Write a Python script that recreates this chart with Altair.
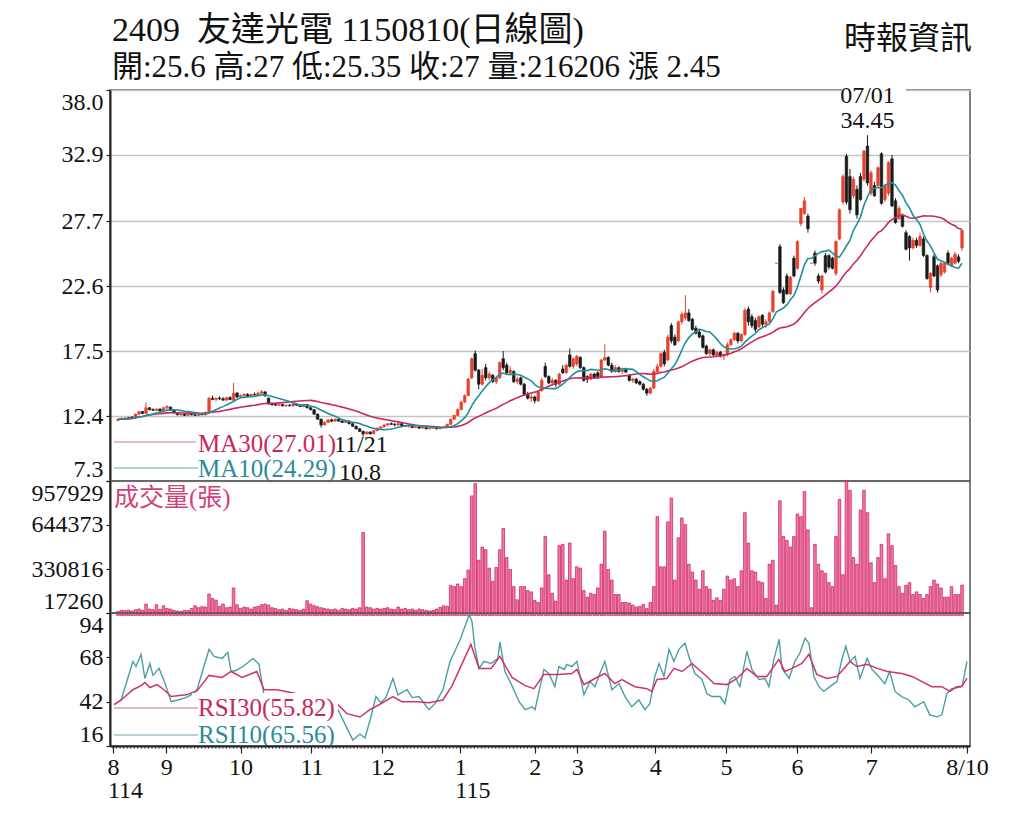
import json
import altair as alt
import pandas as pd

# ---------------- data (trading-day index 0 = 2025-08-11 ... 241 = 2026-08-10) -------------
OPEN = [
    12.05,12.15,12.2,12.15,12.3,12.25,12.55,12.75,12.6,13.05,12.9,12.85,12.95,12.8,13.05,
    13.1,12.85,12.65,12.5,12.55,12.45,12.55,12.5,12.45,12.55,12.5,12.75,13.8,13.7,13.8,13.75,13.65,13.85,13.65,14.2,13.9,
    14.0,14.1,13.95,14.1,14.05,14.2,14.3,13.8,13.35,13.3,13.25,13.3,13.2,13.25,13.2,13.35,13.25,13.15,13.3,13.05,
    12.9,12.55,12.15,11.7,11.9,12.1,12.0,12.15,12.0,11.9,12.0,11.8,11.6,11.4,11.2,11.0,11.15,11.0,11.25,11.45,
    11.55,11.7,11.8,11.75,11.7,11.8,11.65,11.6,11.6,11.5,11.55,11.45,11.5,11.4,11.45,11.5,11.4,11.5,11.55,11.75,12.15,12.45,
    12.9,13.5,14.0,15.4,17.3,16.0,14.9,16.2,15.4,15.6,15.1,15.4,16.9,16.4,15.8,15.9,15.1,15.4,14.9,14.1,13.8,
    13.9,13.6,14.4,16.3,15.5,15.0,15.2,14.9,16.1,15.8,17.2,16.3,
    16.5,17.0,16.2,15.5,15.3,15.7,15.8,15.5,16.8,17.0,16.4,15.9,16.2,15.9,16.1,15.6,15.2,15.3,15.1,14.9,14.5,14.2,
    14.6,15.9,16.3,17.4,16.8,19.5,18.6,18.3,19.8,20.1,20.5,20.0,19.3,19.0,18.7,17.9,17.3,17.6,17.2,17.4,
    17.1,17.2,18.0,18.4,18.9,18.3,18.8,20.8,20.2,19.9,19.4,20.3,19.6,19.8,20.6,24.4,25.7,22.3,23.4,22.0,
    24.8,24.0,27.5,28.3,28.1,24.4,25.2,23.4,22.3,25.0,25.0,24.8,23.6,26.3,29.2,32.8,31.2,29.7,30.2,31.2,31.0,
    33.6,29.9,30.5,30.5,33.0,29.4,29.9,32.6,29.3,27.9,28.1,26.8,26.5,25.6,26.2,25.8,26.3,25.0,22.5,24.9,24.2,23.5,
    23.7,25.2,24.2,24.4,24.9,25.6,
]
HIGH = [
    12.2,12.3,12.3,12.35,12.4,12.6,12.8,12.8,13.45,13.1,13.0,13.0,13.0,13.1,13.25,
    13.15,12.9,12.7,12.6,12.6,12.6,12.6,12.55,12.6,12.65,12.75,13.9,14.0,13.85,13.95,13.9,13.9,13.95,15.0,14.3,14.1,
    14.2,14.2,14.15,14.25,14.3,14.45,14.35,13.85,13.45,13.4,13.35,13.35,13.3,13.35,13.4,13.4,13.3,13.35,13.35,13.15,
    12.95,12.6,12.2,12.0,12.15,12.2,12.2,12.2,12.1,12.05,12.05,11.85,11.65,11.45,11.25,11.2,11.2,11.3,11.5,11.6,
    11.75,11.85,11.9,11.85,11.9,11.85,11.7,11.7,11.65,11.6,11.6,11.55,11.55,11.5,11.55,11.55,11.55,11.6,11.8,12.2,12.5,13.0,
    13.6,14.1,15.4,17.0,17.55,16.1,16.1,16.5,15.9,15.7,15.5,16.7,17.5,16.6,16.3,16.0,15.5,15.5,15.0,14.3,14.1,
    14.0,14.4,15.4,16.6,15.6,15.4,15.3,15.8,16.4,16.5,17.7,17.0,
    17.2,17.1,16.3,15.6,15.8,15.8,15.9,16.9,18.05,17.1,16.6,16.4,16.3,16.2,16.2,15.7,15.4,15.4,15.2,15.0,14.6,14.7,
    16.1,16.5,17.4,17.6,18.8,19.7,18.8,19.9,20.6,21.9,20.8,20.1,19.5,19.2,18.8,18.0,17.7,17.7,17.5,17.5,
    17.3,18.2,18.5,19.0,19.0,18.9,20.9,21.0,20.4,20.1,20.3,20.4,20.0,20.6,22.3,24.4,25.9,22.5,23.6,23.4,
    25.0,26.2,28.7,29.6,28.3,24.4,25.4,23.6,23.5,25.2,25.1,24.9,26.2,28.7,31.4,33.0,31.8,31.2,30.5,31.5,33.3,
    34.45,31.7,30.8,32.0,33.1,30.6,32.4,32.9,29.5,28.9,28.3,27.0,26.6,26.4,26.4,26.8,26.5,25.1,23.7,25.1,24.3,24.5,
    24.5,25.4,24.9,25.3,25.1,27.0,
]
LOW = [
    12.0,12.1,12.1,12.1,12.2,12.2,12.5,12.55,12.6,12.85,12.8,12.8,12.75,12.8,12.95,
    12.8,12.6,12.45,12.4,12.4,12.45,12.45,12.4,12.4,12.45,12.45,12.7,13.65,13.55,13.65,13.6,13.6,13.65,13.55,13.8,13.8,
    13.9,13.9,13.9,14.0,14.0,14.1,13.9,13.3,13.2,13.2,13.15,13.15,13.1,13.15,13.15,13.2,13.1,13.1,13.0,12.85,
    12.5,12.1,11.5,11.65,11.85,11.9,11.95,11.95,11.85,11.85,11.75,11.55,11.35,11.15,10.8,10.95,10.95,11.0,11.2,11.4,
    11.5,11.6,11.7,11.6,11.65,11.6,11.55,11.5,11.45,11.45,11.4,11.4,11.35,11.35,11.4,11.35,11.4,11.45,11.5,11.7,12.1,12.4,
    12.85,13.4,14.0,15.3,15.9,14.5,14.8,15.2,15.2,15.0,14.9,15.3,16.0,15.7,15.6,15.0,14.9,14.8,14.0,13.7,13.5,
    13.4,13.5,14.3,15.4,14.9,14.8,14.7,14.8,15.7,15.7,16.2,16.1,
    16.3,16.1,15.1,15.0,15.2,15.3,15.3,15.4,16.7,16.3,15.8,15.8,15.8,15.7,15.8,15.1,15.0,14.9,14.8,14.4,14.0,14.1,
    14.5,15.7,16.2,16.3,16.7,18.1,17.9,18.2,19.6,19.9,19.8,19.1,18.8,18.5,17.7,17.2,17.1,17.1,17.0,17.0,
    16.8,17.1,17.9,18.3,18.1,18.2,18.7,19.5,19.3,19.0,19.3,19.4,19.3,19.6,20.5,24.4,22.0,21.2,21.9,21.9,
    23.3,23.9,27.3,28.2,26.8,24.4,24.2,22.8,22.0,23.6,23.9,23.9,23.4,26.2,29.0,29.0,28.3,29.5,27.9,29.3,30.8,
    30.5,29.7,29.6,30.3,29.0,29.2,29.7,28.8,27.5,27.8,27.2,25.4,24.6,25.5,25.6,25.7,24.9,23.1,22.1,23.3,22.1,23.3,
    23.6,24.3,24.1,24.3,24.4,25.35,
]
CLOSE = [
    12.15,12.2,12.15,12.3,12.25,12.55,12.75,12.6,13.05,12.9,12.85,12.95,12.8,13.05,13.15,
    12.85,12.65,12.5,12.55,12.45,12.55,12.5,12.45,12.55,12.5,12.7,13.8,13.7,13.8,13.75,13.65,13.85,13.7,14.2,13.9,14.0,
    14.1,13.95,14.1,14.05,14.2,14.3,14.0,13.35,13.3,13.25,13.3,13.2,13.25,13.2,13.35,13.25,13.15,13.3,13.05,12.9,
    12.55,12.15,11.7,11.9,12.1,12.0,12.15,12.0,11.9,12.0,11.8,11.6,11.4,11.2,11.0,11.15,11.0,11.25,11.45,11.55,
    11.7,11.8,11.75,11.7,11.8,11.65,11.6,11.6,11.5,11.55,11.45,11.5,11.4,11.45,11.5,11.4,11.5,11.55,11.75,12.15,12.45,12.9,
    13.5,14.0,15.3,16.9,16.0,14.9,15.6,15.4,15.7,15.1,15.4,16.6,16.2,15.8,16.0,15.1,15.3,14.9,14.1,13.8,13.9,
    13.6,14.3,15.2,15.5,15.0,15.2,14.9,15.7,15.8,16.4,16.3,16.9,
    17.1,16.2,15.2,15.3,15.7,15.4,15.5,16.8,17.0,16.4,15.9,16.2,15.9,16.1,15.85,15.2,15.3,15.0,14.9,14.5,14.2,14.6,
    15.9,16.3,17.3,16.5,18.6,18.3,18.0,19.8,20.4,20.5,19.9,19.2,18.9,18.6,17.8,17.3,17.6,17.2,17.4,17.1,
    17.2,18.0,18.4,18.9,18.3,18.8,20.7,19.8,19.5,19.2,20.2,19.6,19.8,20.5,22.2,24.4,22.1,21.3,22.0,23.3,
    23.4,26.1,28.7,29.3,27.1,24.4,24.4,23.0,23.4,23.7,24.1,24.0,26.1,28.6,31.2,29.2,28.6,31.0,28.2,29.4,33.2,
    30.7,31.5,29.7,31.9,29.1,30.5,32.3,28.9,27.6,28.7,27.3,25.5,25.6,26.2,25.8,26.5,25.0,23.2,23.6,23.4,22.3,24.4,
    24.4,24.4,24.8,25.1,24.55,27.0,
]
VOLUME = [
    28500,36100,34200,38000,31400,40800,45500,36100,81200,45500,40800,76500,43600,69000,50200,
    45500,36100,31400,28500,36100,34200,50200,69000,54900,62400,59600,152700,120700,109400,64300,81200,54900,59600,196000,76500,50200,
    59600,54900,45500,59600,64300,76500,81200,73700,54900,50200,40800,45500,36100,50200,45500,40800,36100,45500,104800,81200,
    69000,62400,54900,50200,45500,40800,45500,36100,50200,45500,40800,50200,45500,54900,591100,59600,54900,45500,50200,45500,
    50200,54900,45500,40800,59600,45500,50200,40800,45500,36100,45500,40800,36100,31400,36100,45500,57700,69000,64300,214800,205400,224200,
    205400,261800,323000,851600,939100,393500,487600,468800,337100,243000,341800,468800,619300,412300,327700,205400,111300,205400,205400,177200,167800,
    106600,92500,196000,562900,290000,158400,102000,497000,506400,252400,515800,261800,
    346500,337100,177200,130100,158400,149000,196000,365300,600500,327700,252400,149000,149000,92500,92500,87800,73700,59600,64300,78400,48300,92500,
    205400,703900,346500,346500,666300,835600,252400,553500,694500,647500,365300,308900,252400,186600,318300,205400,186600,106600,125400,106600,
    186600,280600,252400,261800,205400,318300,732200,515800,318300,308900,243000,233600,120700,365300,393500,73700,816800,562900,534600,487600,
    562900,722800,703900,882700,609900,54900,506400,365300,318300,299500,233600,205400,562900,826200,290000,957929,892100,412300,365300,751000,892100,
    732200,374700,233600,412300,506400,261800,581700,497000,355900,205400,158400,214800,233600,149000,167800,149000,120700,149000,205400,252400,224200,196000,
    130100,130100,205400,149000,149000,216206,
]
RSI10_DAY = [
    0.3,2.3,5.6,6.5,7.9,9.0,10.4,11.3,13.0,14.4,16.4,18.3,20.6,22.0,23.7,27.1,28.5,30.8,32.4,33.3,34.7,36.7,39.5,41.2,42.6,
    63.5,65.7,67.7,69.7,71.1,72.5,74.2,75.6,77.0,79.0,80.4,83.0,84.4,86.3,89.2,91.1,93.1,95.1,97.9,100.5,101.3,102.1,103.3,
    104.7,106.7,108.6,109.2,110.6,112.6,114.6,116.3,118.3,119.1,
    121.6,123.0,124.7,125.8,127.3,128.1,129.5,130.9,132.9,134.6,136.0,137.4,138.8,140.8,142.8,144.5,146.4,148.4,150.1,151.5,
    152.9,154.1,155.5,156.9,158.3,159.7,161.4,162.5,164.2,166.2,167.6,169.0,171.3,172.7,174.1,175.5,176.9,178.9,180.3,182.3,
    184.0,185.1,186.5,188.0,188.8,190.8,192.4,193.8,195.3,196.4,197.8,199.2,200.6,202.3,204.3,205.7,206.8,208.0,209.4,210.8,
    212.8,214.2,216.1,217.8,219.2,220.7,222.6,224.6,226.3,228.8,230.5,232.5,233.9,235.3,236.7,239.6,241.0,
]
RSI10 = [
    40.2,43,65.6,62.6,69.8,55.6,64.4,57.4,61.5,54.4,42,43,44.4,46,49,72.7,68.6,67.4,70.9,59.7,60.3,62.6,67.4,63.9,46,
    37.3,27.8,19.5,23,20.7,30.8,45,41.4,44.4,55.6,46,49,44.4,45,37.3,41.4,49,65.6,78,93,89,74,61.5,
    65.6,64.4,67.4,77,59.7,51.4,42,37.3,39,37.3,
    60.9,58.5,50.8,62.6,60.9,63.9,62.6,65.6,46,53.8,50.8,58.5,65.6,49,52.6,45,39,43,37.3,40.8,
    56.8,64.4,56.8,72.7,65.6,72.7,76.3,68.6,58.5,55,46.7,45,45,40.8,55,56.8,50.8,71.5,60.9,55,
    55.6,50.8,66.8,78.6,61.5,55.6,65.6,70.3,79.2,76.3,56.8,50.8,48,50.8,53.8,66.8,74.5,65.6,68.6,55.6,
    67.4,60.9,56.8,52.6,59.7,48,45,43,39,42,34.3,33.1,34.3,46.7,49.6,50.8,65.56,
]
RSI30_DAY = [
    0.3,2.3,5.6,7.9,9.0,10.4,12.4,14.4,16.4,20.6,23.7,27.1,30.8,33.3,36.4,40.6,42.6,46.3,53.3,63.5,
    66.0,69.7,72.5,75.1,79.0,81.5,85.8,89.2,93.1,95.7,97.9,101.0,103.3,106.7,109.2,112.6,116.3,118.8,
    121.6,125.8,129.5,130.9,132.9,136.0,138.8,141.6,143.6,147.3,150.7,152.1,153.5,156.3,158.3,160.6,163.4,165.3,167.6,169.6,
    173.2,176.1,178.9,181.7,184.5,187.9,189.6,191.6,194.4,196.4,198.6,201.5,204.3,206.3,208.0,209.9,212.8,215.7,218.5,222.6,
    225.5,228.3,231.1,233.9,236.2,238.1,239.6,241.0,
]
RSI30 = [
    40.2,43,49,51.4,53.2,50.3,52,49,45,46,48.3,57.4,56.2,59.7,56.2,59.7,49,49,46,40.2,
    35,33,37.3,40.2,45,42,42,41.4,43,51.4,61.5,75.6,61.5,61.5,68.6,56.2,51.4,49.6,
    58,58,58.5,60.9,52,55.6,58.5,52.6,55,50.8,49.6,48,55,55.6,61.5,59.7,64.4,60.9,56.8,52.6,
    52,55.6,61.5,56.8,56.8,66.8,59.7,61.5,64.4,69.8,58,55.6,56.8,61.5,65.6,62.6,63.9,61.5,59.7,58.5,
    56.8,53.8,50.8,50.8,48,50.8,51,55.82,
]
MONTH_TICK_DAYS = [0, 15, 36, 56, 76, 98, 119, 131, 153, 173, 193, 214, 241]
MONTH_LABELS = ["8", "9", "10", "11", "12", "1", "2", "3", "4", "5", "6", "7", "8/10"]
YEAR_DAYS = [0, 98]
YEAR_LABELS = ["114", "115"]
PRICE_TICKS = [7.3, 12.4, 17.5, 22.6, 27.7, 32.9, 38.0]
VOL_TICKS = [17260, 330816, 644373, 957929]
RSI_TICKS = [16, 42, 68, 94]
HIGH_DATE, LOW_DATE = "07/01", "11/21"
MA_LABELS = ["MA30(27.01)", "MA10(24.29)"]

N = len(CLOSE)
assert all(len(a) == N for a in (OPEN, HIGH, LOW, VOLUME)), [len(a) for a in (OPEN, HIGH, LOW, CLOSE, VOLUME)]
assert len(RSI10_DAY) == len(RSI10) and len(RSI30_DAY) == len(RSI30)

# ---------------- style ----------------
W, HP, HV, HR = 860, 391, 132, 133
RED, BLACK = "#e8412c", "#1a1a1a"
MA30_C, MA10_C = "#c8275f", "#1f8f9b"
RSI30_C, RSI10_C = "#d0336b", "#4a9fa7"
VOL_FILL, VOL_STROKE = "#f07aa6", "#c8195c"
FONT = "Liberation Serif, 'Noto Sans CJK TC', serif"

days = list(range(N))
df = pd.DataFrame({"d": days, "o": OPEN, "h": HIGH, "l": LOW, "c": CLOSE, "v": VOLUME})
one = pd.DataFrame({"k": [0]})

xscale = alt.Scale(domain=[-0.85, N - 1 + 0.85], nice=False, zero=False)
x_none = alt.X("d:Q", scale=xscale, axis=None)


def seg(y, color):
    return alt.Chart(one).mark_rule(color=color, strokeWidth=1.3).encode(
        x=alt.value(4), x2=alt.value(88), y=alt.value(y))


def box(x1, x2, y1, y2):
    return alt.Chart(one).mark_rect(color="white").encode(
        x=alt.value(x1), x2=alt.value(x2), y=alt.value(y1), y2=alt.value(y2))


def txt(s, x, y, size, color, align="left"):
    return alt.Chart(one).mark_text(text=s, align=align, baseline="middle", font=FONT,
                                    fontSize=size, color=color).encode(x=alt.value(x), y=alt.value(y))


# ---------------- price panel ----------------
pscale = alt.Scale(domain=[PRICE_TICKS[0], PRICE_TICKS[-1]], nice=False, zero=False)
paxis = alt.Axis(values=PRICE_TICKS, format=".1f", labelFlush=True, grid=True, gridColor="#c4c4c4",
                 gridWidth=1.5, tickSize=4, title=None)
is_up = alt.datum.c >= alt.datum.o
base = alt.Chart(df)
wick = base.mark_rule(strokeWidth=1).encode(
    x=x_none, y=alt.Y("l:Q", scale=pscale, axis=paxis), y2="h:Q",
    color=alt.condition(is_up, alt.value(RED), alt.value(BLACK)))
body = base.mark_bar(size=2.6, strokeWidth=0.6).encode(
    x=x_none, y=alt.Y("o:Q", scale=pscale, axis=paxis), y2="c:Q",
    fill=alt.condition(is_up, alt.value(RED), alt.value(BLACK)),
    stroke=alt.condition(is_up, alt.value(RED), alt.value(BLACK)))
ma = base.transform_window(ma10="mean(c)", frame=[-9, 0], sort=[alt.SortField("d")]).transform_window(
    ma30="mean(c)", frame=[-29, 0], sort=[alt.SortField("d")])
ma30 = ma.mark_line(color=MA30_C, strokeWidth=1.6).encode(x=x_none, y=alt.Y("ma30:Q", scale=pscale, axis=paxis))
ma10 = ma.mark_line(color=MA10_C, strokeWidth=1.6).encode(x=x_none, y=alt.Y("ma10:Q", scale=pscale, axis=paxis))

ihi = HIGH.index(max(HIGH))
hi_df = pd.DataFrame({"d": [ihi], "t1": [HIGH_DATE], "t2": [f"{max(HIGH):g}"]})
hi_box = alt.Chart(hi_df).mark_rect(color="white").encode(
    x=alt.X("d:Q", scale=xscale, axis=None), x2=alt.value(794), y=alt.value(-6), y2=alt.value(18))
hi_box = box(732, 796, -6, 18)
hi_t1 = alt.Chart(hi_df).mark_text(baseline="middle", font=FONT, fontSize=24, color="#111").encode(
    x=x_none, y=alt.value(6), text="t1:N")
hi_t2 = alt.Chart(hi_df).mark_text(baseline="middle", font=FONT, fontSize=24, color="#111").encode(
    x=x_none, y=alt.value(31), text="t2:N")

price_layers = [
    wick, body, ma30, ma10,
    seg(352, "#d9a3b6"), seg(378, "#9cc2c8"),
    txt(LOW_DATE, 224, 355, 24, "#111"), txt(f"{min(LOW):g}", 229, 383, 24, "#111"),
    box(86, 227, 343, 365),
    txt(MA_LABELS[0], 88, 354, 25, MA30_C), txt(MA_LABELS[1], 88, 379, 25, "#2a8c98"),
    hi_box, hi_t1, hi_t2,
    txt("2409\u00a0\u00a0友達光電 1150810(日線圖)", 2, -59, 34, "#111"),
    txt(f"開:{OPEN[-1]:g} 高:{HIGH[-1]:g} 低:{LOW[-1]:g} 收:{CLOSE[-1]:g} 量:{VOLUME[-1]} 漲 {CLOSE[-1]-CLOSE[-2]:.2f}",
        2, -22, 31, "#111"),
    txt("時報資訊", 862, -51, 32, "#111", align="right"),
]
price_panel = alt.layer(*price_layers).properties(width=W, height=HP)

# ---------------- volume panel ----------------
vscale = alt.Scale(domain=[VOL_TICKS[0], VOL_TICKS[-1]], nice=False, zero=False)
vaxis = alt.Axis(values=VOL_TICKS, format="d", labelFlush=True, grid=False, tickSize=4, title=None)
vbars = base.mark_bar(size=2.6, fill=VOL_FILL, stroke=VOL_STROKE, strokeWidth=0.7).encode(
    x=x_none, y=alt.Y("v:Q", scale=vscale, axis=vaxis), y2=alt.value(HV))
vol_panel = alt.layer(vbars, txt("成交量(張)", 4, 17, 25, "#d2407a")).properties(width=W, height=HV)

# ---------------- RSI panel ----------------
rscale = alt.Scale(domain=[RSI_TICKS[0], RSI_TICKS[-1]], nice=False, zero=False)
raxis = alt.Axis(values=RSI_TICKS, labelFlush=True, grid=False, tickSize=4, title=None, zindex=1)
label_expr = f"{json.dumps(MONTH_LABELS)}[indexof({json.dumps(MONTH_TICK_DAYS)}, datum.value)]"
xaxis = alt.Axis(values=MONTH_TICK_DAYS, labelExpr=label_expr, tickSize=7, labelPadding=2, grid=False,
                 title=None, zindex=1, labelOverlap=False, labelFlush=False, labelBound=False)
x_ax = alt.X("d:Q", scale=xscale, axis=xaxis)
r10 = alt.Chart(pd.DataFrame({"d": RSI10_DAY, "r": RSI10})).mark_line(color=RSI10_C, strokeWidth=1.4).encode(
    x=x_ax, y=alt.Y("r:Q", scale=rscale, axis=raxis))
r30 = alt.Chart(pd.DataFrame({"d": RSI30_DAY, "r": RSI30})).mark_line(color=RSI30_C, strokeWidth=1.5).encode(
    x=x_ax, y=alt.Y("r:Q", scale=rscale, axis=raxis))
minor = alt.Chart(pd.DataFrame({"d": days})).mark_rule(color="#222", strokeWidth=0.7).encode(
    x=x_ax, y=alt.value(HR), y2=alt.value(HR + 3))
years = alt.Chart(pd.DataFrame({"d": YEAR_DAYS, "t": YEAR_LABELS})).mark_text(
    align="left", baseline="middle", font=FONT, fontSize=24, dx=-5, color="#111").encode(
    x=x_ax, y=alt.value(HR + 45), text="t:N")
rsi_panel = alt.layer(
    r10, r30, minor, years,
    box(82, 228, 80, 131),
    seg(95, "#d8a0b5"), seg(122, "#9fc3c8"),
    txt(f"RSI30({RSI30[-1]:.2f})", 88, 95, 25, MA30_C),
    txt(f"RSI10({RSI10[-1]:.2f})", 88, 122, 25, "#2a8c98"),
).properties(width=W, height=HR)

chart = alt.vconcat(price_panel, vol_panel, rsi_panel, spacing=0, bounds="flush").properties(
    padding={"left": 22, "top": 5, "right": 10, "bottom": 5}, background="white"
).configure_view(stroke="#555", strokeWidth=1.5).configure_axis(
    labelFont="Liberation Serif", labelFontSize=24, labelColor="#111", domainColor="#222",
    domainWidth=2, tickColor="#222", tickWidth=1.2, labelPadding=3)

chart.save("out.html", embed_options={"renderer": "svg", "actions": False})
